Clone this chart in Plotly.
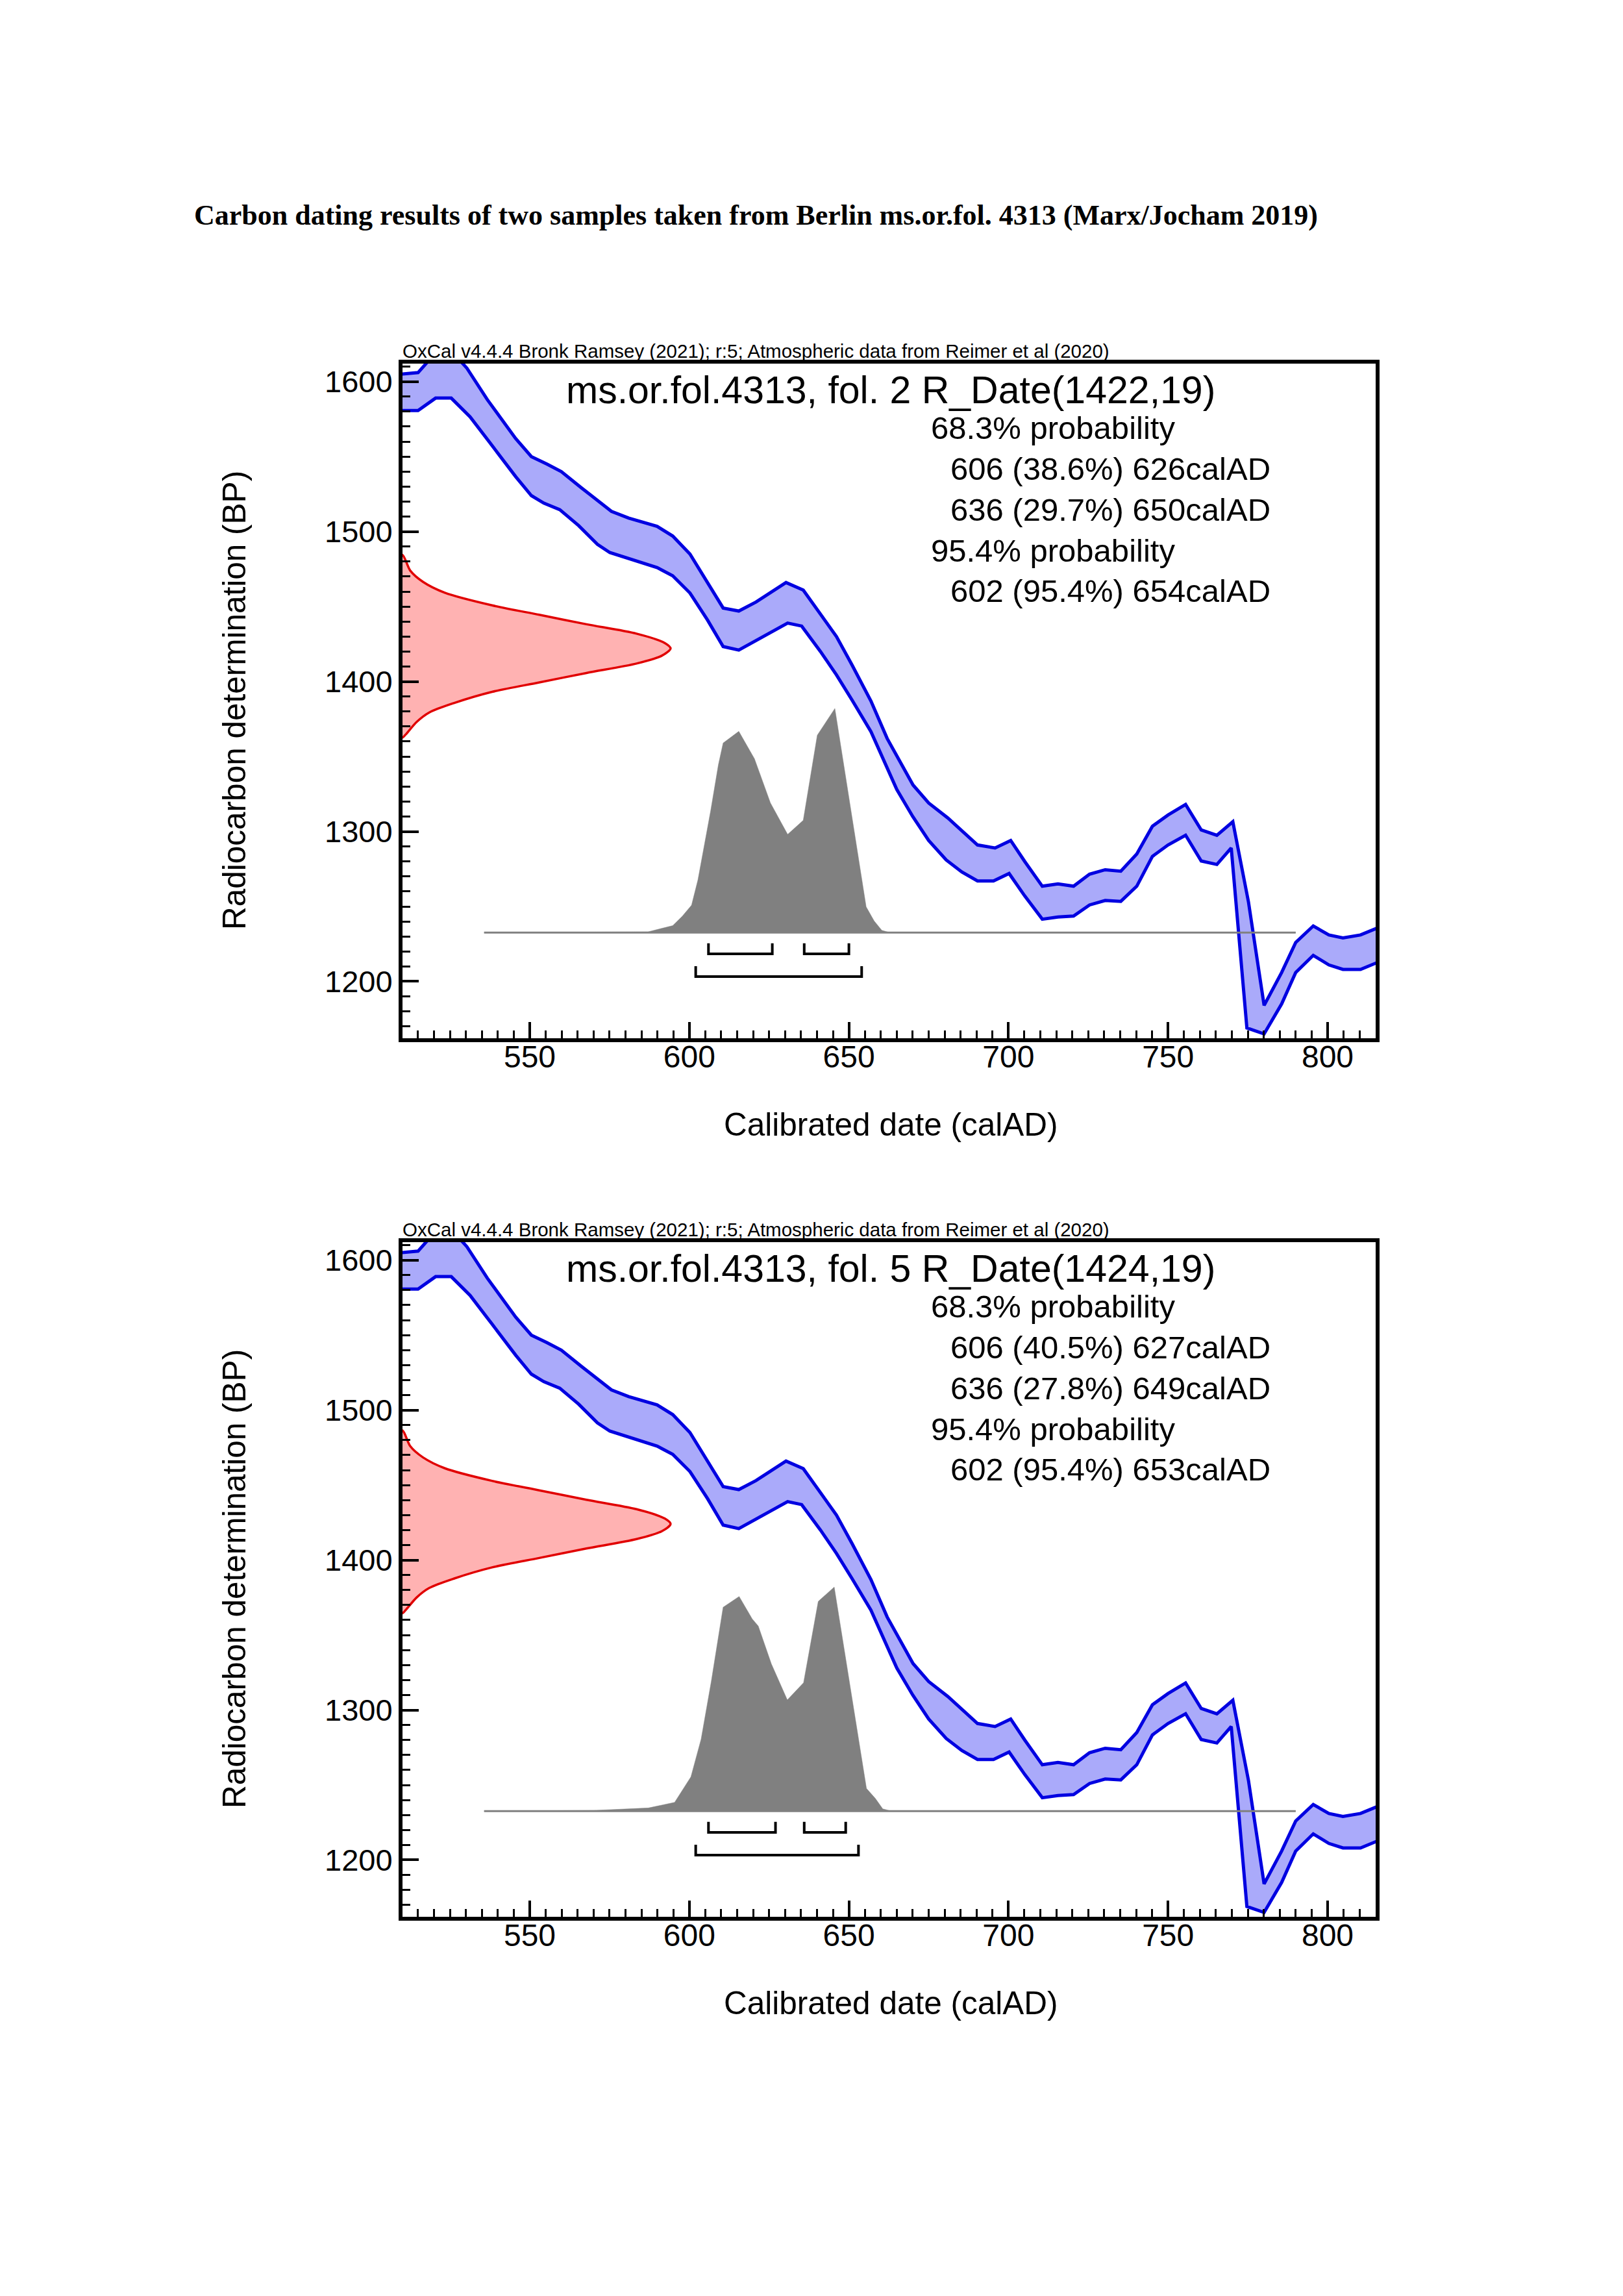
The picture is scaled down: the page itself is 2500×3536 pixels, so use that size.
import plotly.graph_objects as go

# ---------------- data ----------------
# IntCal20 calibration band (upper / lower 1-sigma edges)
cal_upper_year = [509.6, 515.0, 520.0, 526.0, 530.3, 536.7, 545.6, 550.5, 555.4, 559.9, 566.3,
                  575.6, 581.0, 589.9, 594.8, 600.2, 610.6, 615.5, 620.9, 630.3, 635.7, 641.1,
                  646.1, 651.0, 656.9, 662.0, 670.1, 675.0, 681.0, 690.3, 695.8, 700.7, 705.1,
                  710.6, 715.5, 720.4, 725.4, 730.3, 735.2, 740.2, 745.1, 750.0, 755.5, 760.4,
                  765.3, 770.3, 775.2, 780.1, 785.6, 790.0, 795.5, 800.4, 804.8, 810.3, 816.0]
cal_upper_bp = [1605, 1606, 1618, 1619, 1609, 1588, 1562, 1550, 1545, 1540, 1529,
                1513.5, 1509, 1503.5, 1497, 1485, 1449, 1447, 1453, 1466, 1461, 1445,
                1430, 1411, 1387, 1362, 1331, 1319, 1309, 1291, 1289, 1294, 1280,
                1263.5, 1265, 1263.5, 1271.5, 1274.5, 1273.5, 1285, 1303.5, 1311, 1318, 1301,
                1297.5, 1306.5, 1253, 1184, 1206, 1226, 1237, 1231, 1229, 1231, 1236]
cal_lower_year = [509.6, 515.0, 520.5, 525.4, 531.3, 537.7, 545.6, 550.5, 554.4, 559.4, 565.3,
                  571.2, 575.1, 581.0, 589.9, 594.8, 600.2, 605.7, 610.6, 615.5, 620.4, 630.8,
                  635.2, 641.1, 646.1, 651.0, 656.9, 662.0, 665.0, 670.0, 675.0, 680.5, 685.4,
                  690.3, 695.3, 700.2, 705.1, 710.6, 715.5, 720.4, 725.4, 730.3, 735.2, 740.2,
                  745.1, 750.0, 755.5, 760.4, 765.3, 769.8, 774.7, 780.1, 785.6, 790.0, 795.5,
                  800.4, 804.8, 810.3, 816.0]
cal_lower_bp = [1580.7, 1580.7, 1589, 1589, 1576.5, 1558.7, 1536.6, 1524, 1519, 1514.6, 1504,
                1491.5, 1486, 1482, 1476, 1470.5, 1459, 1441, 1423.3, 1421, 1426.4, 1439,
                1437, 1420, 1404.4, 1387.6, 1366.6, 1342, 1328, 1310, 1294, 1281, 1273,
                1267, 1267, 1272, 1257, 1241.5, 1243, 1243.6, 1251, 1254, 1253.4, 1263.5,
                1283.4, 1291, 1297.5, 1280.3, 1278, 1289, 1169, 1165, 1185, 1206, 1217.4,
                1211, 1208, 1208, 1213]

# measured radiocarbon distribution shape (offset from mean in BP, relative density)
red_dbp = [62.4, 51.9, 44.5, 37.2, 28.8, 22.5, 16.2, 9.9, 3.6, 0.0,
           -4.8, -10.0, -16.3, -22.6, -28.9, -36.3, -42.6, -48.9, -57.3, -59.4]
red_dens = [0.0, 0.029, 0.076, 0.158, 0.334, 0.51, 0.686, 0.873, 0.979, 1.0,
            0.967, 0.873, 0.686, 0.51, 0.334, 0.193, 0.1, 0.053, 0.012, 0.0]

# samples
sample_names = ["ms.or.fol.4313, fol. 2", "ms.or.fol.4313, fol. 5"]
sample_mean = [1422, 1424]
sample_sd = [19, 19]

# calibrated probability distributions (calAD, relative probability)
post1_year = [535.7, 567.0, 587.0, 594.8, 597.8, 600.7, 602.7, 606.7, 609.1, 610.6, 615.5,
              620.4, 625.4, 630.8, 635.7, 640.1, 645.6, 655.4, 657.9, 660.3, 662.8, 790.0]
post1_prob = [0.0, 0.001, 0.003, 0.031, 0.073, 0.122, 0.235, 0.544, 0.748, 0.846, 0.898,
              0.776, 0.579, 0.438, 0.501, 0.881, 1.0, 0.115, 0.052, 0.01, 0.0, 0.0]
post2_year = [535.7, 570.0, 587.2, 595.4, 600.5, 603.7, 606.9, 610.6, 615.6, 619.7, 621.6,
              625.7, 630.7, 635.8, 640.4, 645.4, 655.5, 658.3, 660.6, 663.3, 790.0]
post2_prob = [0.0, 0.003, 0.014, 0.039, 0.153, 0.321, 0.58, 0.91, 0.958, 0.858, 0.826,
              0.657, 0.496, 0.573, 0.936, 1.0, 0.101, 0.056, 0.01, 0.0, 0.0]
post_year = [post1_year, post2_year]
post_prob = [post1_prob, post2_prob]

# calibrated ranges: (from, percent, to)
ranges68 = [[(606, 38.6, 626), (636, 29.7, 650)],
            [(606, 40.5, 627), (636, 27.8, 649)]]
ranges95 = [[(602, 95.4, 654)],
            [(602, 95.4, 653)]]

x_tick_vals = [550, 600, 650, 700, 750, 800]
y_tick_vals = [1200, 1300, 1400, 1500, 1600]

page_title = "Carbon dating results of two samples taken from Berlin ms.or.fol. 4313 (Marx/Jocham 2019)"
oxcal_credit = "OxCal v4.4.4 Bronk Ramsey (2021); r:5; Atmospheric data from Reimer et al (2020)"
x_title = "Calibrated date (calAD)"
y_title = "Radiocarbon determination (BP)"

# ---------------- layout constants ----------------
W, H = 2500, 3536
X_RANGE = [510.13, 815.05]
Y_RANGE = [1162.1, 1612.0]
FRAME_L, FRAME_R = 620, 2119
FRAME_T, FRAME_B = 560, 1599
OFFSET = 1353
RED_PEAK_WIDTH = 84.0
POST_BASE = 1232.6
POST_SCALE = 149.4
BR68_Y, BR95_Y, BR_TICK = 1218.4, 1203.2, 7.0
SANS = "Liberation Sans, Arial, Helvetica, sans-serif"

BLUE_FILL = "rgb(170,170,250)"
BLUE_LINE = "rgb(0,0,225)"
RED_FILL = "rgb(255,178,178)"
RED_LINE = "rgb(225,0,0)"
GREY = "rgb(128,128,128)"


def px(x):
    return x / W


def py(y):
    return 1 - y / H


fig = go.Figure()
annotations = []

for i in range(2):
    xa = "x" if i == 0 else "x2"
    ya = "y" if i == 0 else "y2"
    off = OFFSET * i

    # calibration band
    poly_x = cal_upper_year + cal_lower_year[::-1] + [cal_upper_year[0]]
    poly_y = cal_upper_bp + cal_lower_bp[::-1] + [cal_upper_bp[0]]
    fig.add_trace(go.Scatter(x=poly_x, y=poly_y, mode="lines", fill="toself",
                             fillcolor=BLUE_FILL, line=dict(color=BLUE_LINE, width=5),
                             xaxis=xa, yaxis=ya, showlegend=False, hoverinfo="skip"))

    # measured radiocarbon date (red)
    rx = [X_RANGE[0] + d * RED_PEAK_WIDTH for d in red_dens]
    ry = [sample_mean[i] + d for d in red_dbp]
    fig.add_trace(go.Scatter(x=[X_RANGE[0] - 2] + rx + [X_RANGE[0] - 2],
                             y=[ry[0]] + ry + [ry[-1]], mode="lines", fill="toself",
                             fillcolor=RED_FILL,
                             line=dict(color=RED_LINE, width=3.5, shape="spline", smoothing=0.8),
                             xaxis=xa, yaxis=ya, showlegend=False, hoverinfo="skip"))

    # calibrated distribution (grey)
    gx = post_year[i] + [post_year[i][-1], post_year[i][0]]
    gy = [POST_BASE + p * POST_SCALE for p in post_prob[i]] + [POST_BASE, POST_BASE]
    fig.add_trace(go.Scatter(x=gx, y=gy, mode="lines", fill="toself", fillcolor=GREY,
                             line=dict(color=GREY, width=0.5),
                             xaxis=xa, yaxis=ya, showlegend=False, hoverinfo="skip"))
    fig.add_trace(go.Scatter(x=[post_year[i][0], post_year[i][-1]], y=[POST_BASE, POST_BASE],
                             mode="lines", line=dict(color=GREY, width=3),
                             xaxis=xa, yaxis=ya, showlegend=False, hoverinfo="skip"))

    # range brackets
    bx, by = [], []
    for (a, _, b) in ranges68[i]:
        bx += [a, a, b, b, None]
        by += [BR68_Y + BR_TICK, BR68_Y, BR68_Y, BR68_Y + BR_TICK, None]
    for (a, _, b) in ranges95[i]:
        bx += [a, a, b, b, None]
        by += [BR95_Y + BR_TICK, BR95_Y, BR95_Y, BR95_Y + BR_TICK, None]
    fig.add_trace(go.Scatter(x=bx, y=by, mode="lines", line=dict(color="black", width=4),
                             xaxis=xa, yaxis=ya, showlegend=False, hoverinfo="skip"))

    axis_common = dict(showgrid=False, zeroline=False, showline=True, linecolor="black",
                       linewidth=6, mirror=True, ticks="inside", tickcolor="black",
                       tickwidth=4, ticklen=25)
    xkey = "xaxis" if i == 0 else "xaxis2"
    ykey = "yaxis" if i == 0 else "yaxis2"
    fig.update_layout(**{
        xkey: dict(axis_common, range=X_RANGE, autorange=False, tickvals=x_tick_vals,
                   domain=[px(FRAME_L), px(FRAME_R)], anchor=ya, ticklabelstandoff=-19,
                   tickfont=dict(family=SANS, size=48, color="black"),
                   minor=dict(ticks="inside", dtick=5, tick0=0, ticklen=12, tickwidth=3,
                              tickcolor="black", showgrid=False)),
        ykey: dict(axis_common, range=Y_RANGE, autorange=False, tickvals=y_tick_vals,
                   domain=[py(FRAME_B + off), py(FRAME_T + off)], anchor=xa, ticklabelstandoff=0,
                   tickfont=dict(family=SANS, size=47, color="black"),
                   minor=dict(ticks="inside", dtick=10, tick0=0, ticklen=12, tickwidth=3,
                              tickcolor="black", showgrid=False)),
    })

    # texts
    def txt(x, y, s, size, **kw):
        annotations.append(dict(x=px(x), y=py(y + off), xref="paper", yref="paper", text=s,
                                showarrow=False, xanchor=kw.get("xanchor", "left"),
                                yanchor="middle", textangle=kw.get("angle", 0),
                                font=dict(family=SANS, size=size, color="black")))

    txt(618, 540, oxcal_credit, 29.5)
    txt(870, 601, f"{sample_names[i]} R_Date({sample_mean[i]},{sample_sd[i]})", 59)
    lines = ["68.3% probability"]
    lines += [f"  {a} ({p:.1f}%) {b}calAD" for (a, p, b) in ranges68[i]]
    lines += ["95.4% probability"]
    lines += [f"  {a} ({p:.1f}%) {b}calAD" for (a, p, b) in ranges95[i]]
    ys = [659, 722, 785, 848, 910]
    for s, yy in zip(lines, ys):
        xx = 1432 if not s.startswith("  ") else 1462
        txt(xx, yy, s.strip(), 49)
    txt(1372, 1731, x_title, 49.5, xanchor="center")
    txt(360, 1079, y_title, 49.5, xanchor="center", angle=-90)

annotations.append(dict(x=px(297), y=py(331), xref="paper", yref="paper", text=f"<b>{page_title}</b>",
                        showarrow=False, xanchor="left", yanchor="middle",
                        font=dict(family="Liberation Serif, Times New Roman, serif", size=44,
                                  color="black")))

fig.update_layout(width=W, height=H, autosize=False, margin=dict(l=0, r=0, t=0, b=0, pad=0),
                  paper_bgcolor="white", plot_bgcolor="white", annotations=annotations,
                  showlegend=False)

fig.write_html("out.html", post_script="document.body.style.margin='0';")
